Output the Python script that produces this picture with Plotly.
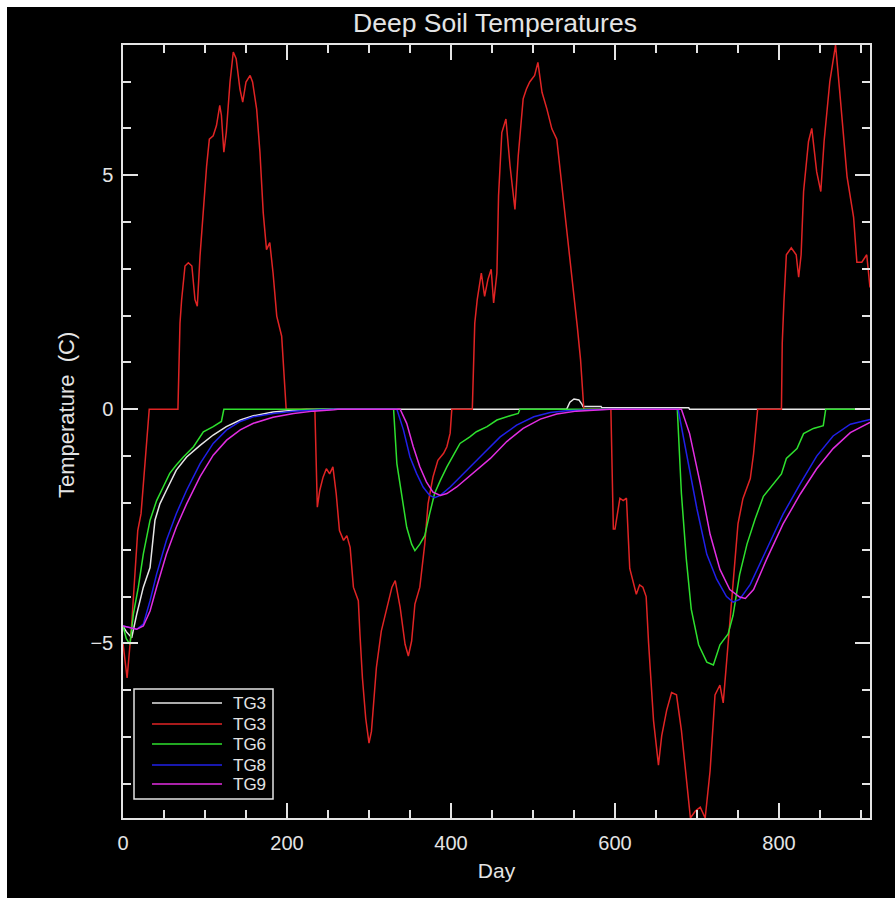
import plotly.graph_objects as go

# ---------------- data ----------------
series_names = ["TG3", "TG3", "TG6", "TG8", "TG9"]
series_colors = ["#e6e6e6", "#e02424", "#2ee02e", "#2020e8", "#e22ee2"]

tg3w_day = [0, 4, 10.6, 16.7, 24.8, 33, 39, 45, 53, 65, 77.6, 94, 110, 126, 143, 159, 183, 208, 224,
            541, 545, 550, 556, 560, 561, 583, 584, 690, 691, 911]
tg3w_val = [-4.63, -4.75, -4.88, -4.38, -3.8, -3.38, -2.37, -2.02, -1.73, -1.3, -1.02, -0.77, -0.55, -0.37,
            -0.23, -0.14, -0.06, -0.03, 0,
            0, 0.15, 0.22, 0.2, 0.1, 0.06, 0.06, 0.03, 0.03, 0, 0]

tg3r_day = [0, 5, 10, 14, 18, 22, 26, 30, 32, 67, 69.5, 71.5, 75.6, 79.7, 84, 87.8, 90.6, 93.9, 98, 102,
            105.3, 110, 114, 118, 120, 123, 126, 130.5, 134.5, 138, 142.6, 146, 150, 155, 158, 163, 167,
            171, 175, 179, 183, 187.5, 193.5, 197.5, 199,
            234, 237, 240, 244, 248, 252, 256, 260, 264, 269, 273, 277, 281, 287, 289, 292, 296, 300, 303,
            309, 315, 321, 328, 332, 338, 344, 348, 352, 356, 362, 368, 372, 378, 384, 391, 395, 399, 401,
            426, 429, 432, 437, 441, 445, 449, 452, 456, 458, 462, 467, 472, 478, 482, 488, 492, 496, 502,
            506, 511, 517, 523, 529, 535, 541, 547, 554, 558, 561, 562,
            595, 598, 600, 603, 606, 610, 614, 618, 622, 626, 630, 634, 638, 641, 647, 653, 657, 663, 669,
            675, 681, 687, 692, 698, 704, 710, 716, 722, 728, 732, 738, 744, 750, 756, 765, 769, 772, 774,
            803, 804, 806, 809, 815, 821, 824, 827, 830, 836, 840, 846, 851, 855, 862, 869, 874, 883, 891,
            895, 901, 907, 911]
tg3r_val = [-5.0, -5.74, -4.74, -3.66, -2.59, -2.23, -1.37, -0.44, 0, 0, 1.84, 2.34, 3.06, 3.13, 3.06, 2.34,
            2.2, 3.27, 4.34, 5.2, 5.77, 5.84, 6.06, 6.49, 6.28, 5.49, 5.92, 6.99, 7.63, 7.49, 6.84, 6.56,
            6.99, 7.13, 6.99, 6.41, 5.49, 4.2, 3.41, 3.56, 2.91, 1.99, 1.56, 0.41, 0,
            0, -2.09, -1.73, -1.45, -1.27, -1.38, -1.23, -1.8, -2.59, -2.8, -2.7, -2.95, -3.8, -4.09, -4.81,
            -5.74, -6.6, -7.13, -6.88, -5.52, -4.74, -4.3, -3.8, -3.66, -4.23, -5.02, -5.27, -4.95, -4.16,
            -3.8, -2.88, -2.02, -1.45, -1.09, -0.94, -0.8, -0.51, 0,
            0, 1.84, 2.34, 2.91, 2.41, 2.77, 2.99, 2.27, 2.91, 4.56, 5.91, 6.2, 5.2, 4.27, 5.41, 6.63, 6.84,
            6.99, 7.13, 7.41, 6.77, 6.41, 5.99, 5.77, 4.84, 3.77, 2.91, 1.77, 1.06, 0.41, 0,
            0, -2.56, -2.56, -2.2, -1.9, -1.95, -1.9, -3.4, -3.7, -3.95, -3.75, -3.8, -4.0, -5.0, -6.65,
            -7.6, -6.97, -6.43, -6.05, -6.1, -6.86, -7.94, -8.73, -8.58, -8.5, -8.73, -7.72, -6.1, -5.89,
            -6.27, -5.03, -3.63, -2.45, -1.91, -1.48, -0.95, -0.3, 0,
            0, 1.42, 2.28, 3.3, 3.45, 3.3, 2.82, 3.3, 4.65, 5.72, 6.0, 5.07, 4.65, 5.72, 7.0, 7.78, 6.8,
            4.97, 4.1, 3.14, 3.14, 3.3, 2.6]

tg6_day = [0, 4, 8.5, 12.6, 18.7, 24.8, 33, 41, 49, 57, 65, 73.6, 86, 98, 110, 120, 123,
           330, 334, 340, 346, 352, 356, 362, 368, 374, 380, 387, 395, 403, 411, 423, 431, 444, 456, 472,
           482, 484,
           676, 681, 687, 693, 702, 712, 720, 728, 738, 744, 752, 761, 771, 781, 793, 803, 809, 822, 830,
           842, 854, 857, 911]
tg6_val = [-4.63, -4.9, -5.02, -4.38, -3.8, -3.09, -2.37, -1.95, -1.66, -1.37, -1.19, -1.02, -0.8, -0.48,
           -0.37, -0.26, 0,
           0, -1.16, -1.87, -2.52, -2.88, -3.02, -2.88, -2.7, -2.23, -1.8, -1.52, -1.23, -0.98, -0.73,
           -0.59, -0.48, -0.37, -0.23, -0.14, -0.09, 0,
           0, -1.8, -3.2, -4.27, -5.03, -5.4, -5.46, -5.03, -4.8, -4.4, -3.53, -2.88, -2.34, -1.86, -1.59,
           -1.38, -1.05, -0.84, -0.52, -0.41, -0.35, 0, 0]

tg8_day = [0, 8.5, 16.7, 24.8, 33, 41, 53, 65, 77.6, 94, 110, 126.4, 143, 159, 183, 208, 232, 257,
           334, 342, 350, 358, 366, 374, 380, 387, 399, 419, 440, 460, 480, 501, 521, 541, 569, 590,
           677, 687, 700, 712, 724, 736, 744, 752, 765, 785, 805, 826, 846, 866, 887, 911]
tg8_val = [-4.63, -4.66, -4.7, -4.59, -4.09, -3.52, -2.8, -2.23, -1.73, -1.16, -0.73, -0.44, -0.26, -0.16,
           -0.09, -0.04, -0.015, 0,
           0, -0.44, -1.02, -1.37, -1.66, -1.84, -1.89, -1.84, -1.66, -1.3, -0.94, -0.59, -0.34, -0.16,
           -0.07, -0.03, -0.015, 0,
           0, -0.95, -2.13, -3.1, -3.63, -4.0, -4.12, -4.06, -3.74, -2.99, -2.24, -1.59, -1.0, -0.57,
           -0.32, -0.22]

tg9_day = [0, 8.5, 16.7, 24.8, 33, 41, 53, 65, 77.6, 94, 110, 126.4, 143, 159, 183, 208, 232, 257, 262,
           338, 346, 354, 362, 370, 378, 387, 395, 407, 427, 448, 468, 488, 509, 529, 553, 582, 594,
           681, 691, 704, 716, 728, 740, 752, 759, 769, 785, 805, 826, 846, 866, 887, 911]
tg9_val = [-4.63, -4.66, -4.7, -4.63, -4.31, -3.8, -3.09, -2.52, -2.02, -1.44, -0.98, -0.66, -0.44, -0.3,
           -0.17, -0.09, -0.04, -0.01, 0,
           0, -0.3, -0.8, -1.23, -1.55, -1.77, -1.84, -1.8, -1.66, -1.37, -1.05, -0.69, -0.41, -0.21,
           -0.1, -0.04, -0.015, 0,
           0, -0.52, -1.59, -2.67, -3.42, -3.85, -4.01, -4.04, -3.85, -3.2, -2.45, -1.81, -1.27, -0.84,
           -0.5, -0.28]

x_range = [0, 911]
y_range = [-8.73, 7.78]
x_tickvals = [0, 200, 400, 600, 800]
y_tickvals = [-5, 0, 5]

# ---------------- figure ----------------
W, H = 895, 898
ML, MR, MT, MB = 123, 25, 45, 80
pw, ph = W - ML - MR, H - MT - MB


def px2paper_x(px):
    return (px - ML) / pw


def py2paper_y(py):
    return (H - MB - py) / ph


FG = "#e4e4e4"
FONT = "Liberation Sans, Arial, sans-serif"

fig = go.Figure()
all_days = [tg3w_day, tg3r_day, tg6_day, tg8_day, tg9_day]
all_vals = [tg3w_val, tg3r_val, tg6_val, tg8_val, tg9_val]
for name, col, d, v in zip(series_names, series_colors, all_days, all_vals):
    fig.add_trace(go.Scatter(x=d, y=v, mode="lines", name=name,
                             line=dict(color=col, width=1.5), showlegend=False))

axis_common = dict(showgrid=False, zeroline=False, showline=True, linecolor=FG, linewidth=1.5,
                   mirror="ticks", ticks="inside", tickcolor=FG, tickwidth=1.5,
                   tickfont=dict(family=FONT, size=20, color=FG))

fig.update_xaxes(range=x_range, tickvals=x_tickvals, ticklen=15,
                 minor=dict(dtick=50, tick0=0, ticks="inside", ticklen=8, tickcolor=FG, tickwidth=1.5),
                 title=dict(text="Day", font=dict(family=FONT, size=21, color=FG), standoff=11),
                 ticklabelstandoff=6, **axis_common)
fig.update_yaxes(range=y_range, tickvals=y_tickvals, ticklen=15,
                 minor=dict(dtick=1, tick0=0, ticks="inside", ticklen=8, tickcolor=FG, tickwidth=1.5),
                 ticklabelstandoff=4, **axis_common)

# y axis title placed like the original (slightly above centre)
fig.add_annotation(text="Temperature\u00a0\u00a0(C)", xref="paper", yref="paper",
                   x=px2paper_x(66), y=py2paper_y(415), xanchor="center", yanchor="middle",
                   textangle=-90, showarrow=False, font=dict(family=FONT, size=22, color=FG))

# white strips at top/left edge of the image
fig.add_shape(type="rect", xref="paper", yref="paper", layer="below",
              x0=px2paper_x(-30), x1=px2paper_x(7), y0=py2paper_y(H + 30), y1=py2paper_y(-30),
              fillcolor="white", line=dict(width=0))
fig.add_shape(type="rect", xref="paper", yref="paper", layer="below",
              x0=px2paper_x(-30), x1=px2paper_x(W + 30), y0=py2paper_y(7), y1=py2paper_y(-30),
              fillcolor="white", line=dict(width=0))

# legend box drawn like the original (long sample lines, labels on the right)
leg_x0, leg_x1, leg_y0, leg_y1 = 134, 273, 689, 799
row_y = [703, 724, 744, 765, 784]
fig.add_shape(type="rect", xref="paper", yref="paper",
              x0=px2paper_x(leg_x0), x1=px2paper_x(leg_x1), y0=py2paper_y(leg_y1), y1=py2paper_y(leg_y0),
              fillcolor="black", line=dict(color=FG, width=1.5))
for name, col, ry in zip(series_names, series_colors, row_y):
    fig.add_shape(type="line", xref="paper", yref="paper",
                  x0=px2paper_x(152), x1=px2paper_x(222), y0=py2paper_y(ry), y1=py2paper_y(ry),
                  line=dict(color=col, width=1.5))
    fig.add_annotation(text=name, xref="paper", yref="paper", x=px2paper_x(232), y=py2paper_y(ry),
                       xanchor="left", yanchor="middle", showarrow=False, borderpad=0,
                       font=dict(family=FONT, size=17, color=FG))

fig.update_layout(
    width=W, height=H,
    margin=dict(l=ML, r=MR, t=MT, b=MB),
    paper_bgcolor="black", plot_bgcolor="black",
    title=dict(text="Deep Soil Temperatures", x=px2paper_x(495), xref="paper", xanchor="center",
               y=1 - 23 / H, yref="container", yanchor="middle",
               font=dict(family=FONT, size=26.5, color=FG)),
    showlegend=False,
)

fig.write_html("out.html")
